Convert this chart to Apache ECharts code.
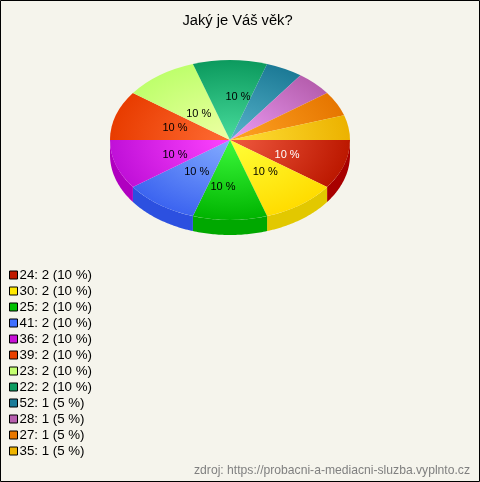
<!DOCTYPE html>
<html><head><meta charset="utf-8">
<style>html,body{margin:0;padding:0;background:#f5f4ec}#c{width:480px;height:482px}</style>
<script src="https://cdn.jsdelivr.net/npm/echarts@6/dist/echarts.min.js"></script>
</head><body><div id="c"></div>
<script>
const categories = ['24','30','25','41','36','39','23','22','52','28','27','35'];
const values = [2,2,2,2,2,2,2,2,1,1,1,1];
const legendColors = ['#c01a00','#ffe800','#00c000','#4070ff','#c810d8','#e84000','#c4ff70','#0c9c60','#1c7c98','#b860b0','#e87800','#eeb400'];
const innerColors = ['#f05a40','#ffff38','#3cfa3c','#84acff','#ff44ff','#ff6c34','#eeffa4','#48dc9c','#58b4cc','#ec9cf4','#ffa424','#ffe038'];
const outerColors = ['#bc1800','#ffdc00','#00b400','#3c64f0','#c010d8','#e83c00','#beff6c','#0c9a5e','#1c7a96','#b65eae','#e67600','#ecb200'];
const wallColors = ['#a80000','#e2c800','#00a800','#2c50e0','#b000c0','#c03000','#a0d860','#088050','#146880','#984a90','#c06000','#c89800'];
const labelNudges = [[0,3],[0,0],[-7,7],[2,0],[2,3],[2,0],[4,6],[8,-3]];
const labelColors = ['#ffffff','#000000','#000000','#000000','#000000','#000000','#000000','#000000'];
const title = 'Jaký je Váš věk?';
const source = 'zdroj: https://probacni-a-mediacni-sluzba.vyplnto.cz';

const total = values.reduce((a,b)=>a+b,0);
const CX=230, CY=140, RX=120, RY=80, DEPTH=15;
const pct = i => Math.round(values[i]/total*100);
const startFrac = i => values.slice(0,i).reduce((a,b)=>a+b,0)/total;

function renderSlice(i){
  const a0 = startFrac(i)*2*Math.PI;
  const a1 = a0 + values[i]/total*2*Math.PI;
  const children = [];
  const wEnd = Math.min(a1,Math.PI);
  if (a0 < Math.PI){
    const top=[],bot=[];
    for(let k=0;k<=40;k++){
      const t=a0+(wEnd-a0)*k/40;
      const x=CX+RX*Math.cos(t), y=CY+RY*Math.sin(t);
      top.push([x,y]); bot.unshift([x,y+DEPTH]);
    }
    children.push({type:'polygon',shape:{points:top.concat(bot)},style:{fill:wallColors[i]}});
  }
  children.push({
    type:'group',x:CX,y:CY,scaleX:1,scaleY:RY/RX,
    children:[{type:'sector',
      shape:{cx:0,cy:0,r:RX,r0:0,startAngle:a0,endAngle:a1,clockwise:true},
      style:{fill:new echarts.graphic.RadialGradient(0,0,RX,[{offset:0,color:innerColors[i]},{offset:1,color:outerColors[i]}],true)}
    }]
  });
  if (i<labelNudges.length){
    const m=(a0+a1)/2;
    children.push({type:'text',
      x:CX+RX*0.5*Math.cos(m)+labelNudges[i][0],
      y:CY+RY*0.5*Math.sin(m)+labelNudges[i][1],
      style:{text:pct(i)+' %',fill:labelColors[i],font:'11px "Liberation Sans"',align:'center',verticalAlign:'middle'}});
  }
  return {type:'group',children};
}

const chart = echarts.init(document.getElementById('c'),null,{renderer:'canvas'});
chart.setOption({
  animation:false,
  backgroundColor:'#f5f4ec',
  color:legendColors,
  title:{text:title,left:237.5,top:13,padding:0,textAlign:'center',textStyle:{fontFamily:'Liberation Sans',fontSize:14.7,fontWeight:'normal',color:'#000'}},
  legend:{
    orient:'vertical',left:9,top:268,padding:0,itemWidth:8,itemHeight:8,itemGap:2,icon:'rect',selectedMode:false,
    align:'left',
    itemStyle:{borderColor:'#000',borderWidth:1},
    textStyle:{fontFamily:'Liberation Sans',fontSize:13.3,color:'#000',lineHeight:14,padding:[0,0,0,-3]},
    formatter:n=>{const i=categories.indexOf(n);return n+': '+values[i]+' ('+pct(i)+' %)';},
    data:categories
  },
  graphic:[
    {type:'rect',z:100,shape:{x:0.5,y:0.5,width:479,height:481},style:{fill:'none',stroke:'#000',lineWidth:1}},
    {type:'text',z:100,right:10,top:465,style:{text:source,fill:'#808080',font:'12.15px "Liberation Sans"'}}
  ],
  series:categories.map((c,i)=>({
    type:'custom',name:c,coordinateSystem:'none',
    data:[[values[i]]],
    renderItem:()=>renderSlice(i),
    silent:true
  }))
});
</script></body></html>
